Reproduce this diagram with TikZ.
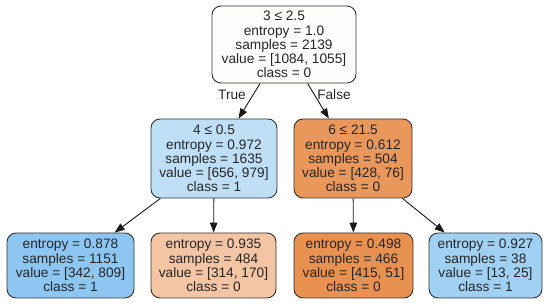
\documentclass[tikz,border=0pt]{standalone}
\usepackage{fontspec}
\setmainfont{Liberation Sans}
\usetikzlibrary{arrows.meta}
\definecolor{cRoot}{RGB}{254,252,250}
\definecolor{cLa}{RGB}{190,223,246}
\definecolor{cLb}{RGB}{234,151,92}
\definecolor{cA}{RGB}{141,198,240}
\definecolor{cB}{RGB}{243,197,164}
\definecolor{cC}{RGB}{232,145,81}
\definecolor{cD}{RGB}{160,208,242}
\begin{document}
\begin{tikzpicture}[x=1pt,y=-1pt,
  box/.style={draw=black!80, line width=0.9pt, rounded corners=9pt, align=center,
    inner sep=0pt, font=\fontsize{13.7}{14.2}\selectfont, text=black!85},
  edge/.style={line width=0.9pt, draw=black!90, -{Triangle[length=10pt,width=7.5pt]}},
  lbl/.style={font=\fontsize{13.7}{14.2}\selectfont, inner sep=0pt, text=black!85}]
\useasboundingbox (0,0) rectangle (550,307);
\node[box, fill=cRoot, minimum width=144pt, minimum height=77pt] (root) at (284,44.5)
  {3 ≤ 2.5\\entropy = 1.0\\samples = 2139\\value = [1084, 1055]\\class = 0};
\node[box, fill=cLa, minimum width=126pt, minimum height=79pt] (la) at (214,158.5)
  {4 ≤ 0.5\\entropy = 0.972\\samples = 1635\\value = [656, 979]\\class = 1};
\node[box, fill=cLb, minimum width=118pt, minimum height=79pt] (lb) at (353,158.5)
  {6 ≤ 21.5\\entropy = 0.612\\samples = 504\\value = [428, 76]\\class = 0};
\node[box, fill=cA, minimum width=127pt, minimum height=65pt] (a) at (70.5,265.5)
  {entropy = 0.878\\samples = 1151\\value = [342, 809]\\class = 1};
\node[box, fill=cB, minimum width=125pt, minimum height=65pt] (b) at (213.5,265.5)
  {entropy = 0.935\\samples = 484\\value = [314, 170]\\class = 0};
\node[box, fill=cC, minimum width=119pt, minimum height=65pt] (c) at (353.5,265.5)
  {entropy = 0.498\\samples = 466\\value = [415, 51]\\class = 0};
\node[box, fill=cD, minimum width=113pt, minimum height=65pt] (d) at (485.5,265.5)
  {entropy = 0.927\\samples = 38\\value = [13, 25]\\class = 1};
\draw[edge] (root) -- (la);
\draw[edge] (root) -- (lb);
\draw[edge] (la) -- (a);
\draw[edge] (la) -- (b);
\draw[edge] (lb) -- (c);
\draw[edge] (lb) -- (d);
\node[lbl] (t) at (232,95) {True};
\node[lbl] (f) at (334,95) {False};
\end{tikzpicture}
\end{document}
